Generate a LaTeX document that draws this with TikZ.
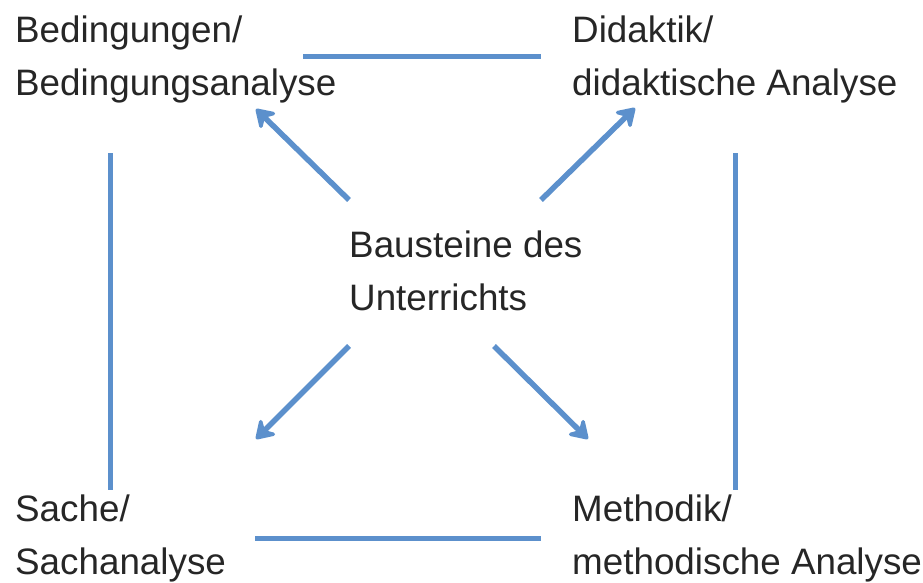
\documentclass[tikz,border=0pt]{standalone}
\usepackage{fontspec}
\setmainfont{Liberation Sans}
\usetikzlibrary{arrows.meta}
\definecolor{lineblue}{RGB}{92,144,204}
\definecolor{textgray}{RGB}{38,38,38}
\begin{document}
\begin{tikzpicture}[x=1pt,y=-1pt,
  lbl/.style={anchor=base west,align=left,inner sep=0pt,text=textgray,
    font=\fontsize{36.8}{53}\selectfont},
  link/.style={draw=lineblue,line width=5pt},
  arr/.style={draw=lineblue,line width=5.5pt,
    -{Stealth[length=22pt,width=28pt,inset=8pt,round]}}]
\useasboundingbox (0,0) rectangle (923,583);
\node[lbl] (bed) at (15,96) {Bedingungen/\\Bedingungsanalyse};
\node[lbl] (did) at (572,96) {Didaktik/\\didaktische Analyse};
\node[lbl] (bau) at (349,310) {Bausteine des\\Unterrichts};
\node[lbl] (sac) at (15,574) {Sache/\\Sachanalyse};
\node[lbl] (met) at (572,574) {Methodik/\\methodische Analyse};
% line ends
\coordinate (t1) at (303,57);  \coordinate (t2) at (541,57);
\coordinate (b1) at (255,538); \coordinate (b2) at (541,538);
\coordinate (l1) at (110,153); \coordinate (l2) at (110,490);
\coordinate (r1) at (735,153); \coordinate (r2) at (735,490);
\draw[link] (t1) -- (t2);
\draw[link] (b1) -- (b2);
\draw[link] (l1) -- (l2);
\draw[link] (r1) -- (r2);
% arrows
\coordinate (a1s) at (349,200); \coordinate (a1e) at (256,109);
\coordinate (a2s) at (541,200); \coordinate (a2e) at (635,108);
\coordinate (a3s) at (349,346); \coordinate (a3e) at (256,439);
\coordinate (a4s) at (494,346); \coordinate (a4e) at (588,439);
\draw[arr] (a1s) -- (a1e);
\draw[arr] (a2s) -- (a2e);
\draw[arr] (a3s) -- (a3e);
\draw[arr] (a4s) -- (a4e);
\end{tikzpicture}
\end{document}
